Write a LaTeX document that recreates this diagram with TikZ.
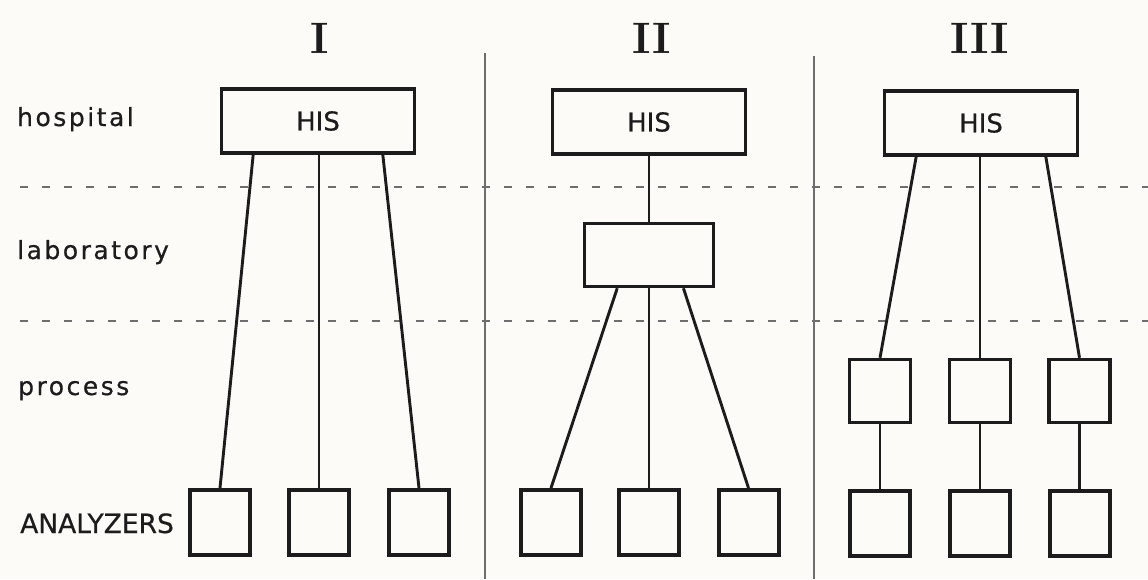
\documentclass[tikz,border=0pt]{standalone}
\usepackage{fontspec}
\newfontfamily\levelfont[LetterSpace=10,FakeBold=0.6]{DejaVu Sans}
\newfontfamily\boxfont[FakeBold=0.6]{DejaVu Sans}
\usetikzlibrary{calc}
\definecolor{paper}{HTML}{FCFBF7}
\definecolor{ink}{HTML}{1C1C1C}
\definecolor{rule}{HTML}{6E6E6E}

\begin{document}
\begin{tikzpicture}[x=1pt,y=-1pt,
  boxline/.style={draw=ink, line width=3.4pt, rectangle, inner sep=0pt},
  hisbox/.style={boxline, minimum width=193pt, minimum height=64pt,
    font=\boxfont\fontsize{26}{26}\selectfont, text=ink},
  labbox/.style={boxline, minimum width=129pt, minimum height=63pt},
  procbox/.style={boxline, minimum width=61pt, minimum height=63pt},
  anbox/.style={boxline, line width=4pt, minimum width=60pt, minimum height=65pt},
  wire/.style={draw=ink, line width=2.9pt},
  level/.style={anchor=base west, inner sep=0pt, text=ink,
    font=\levelfont\fontsize{25}{25}\selectfont},
  numeral/.style={anchor=base, inner sep=0pt, text=ink,
    font=\bfseries\fontsize{44}{44}\selectfont},
  boundary/.style={draw=rule, line width=1.6pt, dash pattern=on 8pt off 14pt},
  divider/.style={draw=rule, line width=1.8pt}
]
% canvas
\fill[paper] (0,0) rectangle (1148,579);
\useasboundingbox (0,0) rectangle (1148,579);

% level boundaries and column dividers
\coordinate (b1l) at (20,187);  \coordinate (b1r) at (1148,187);
\coordinate (b2l) at (20,321);  \coordinate (b2r) at (1148,321);
\draw[boundary] (b1l) -- (b1r);
\draw[boundary] (b2l) -- (b2r);
\coordinate (d1t) at (485,53);  \coordinate (d1b) at (485,579);
\coordinate (d2t) at (814,56);  \coordinate (d2b) at (814,579);
\draw[divider] (d1t) -- (d1b);
\draw[divider] (d2t) -- (d2b);

% level names
\node[level] (lhosp) at (17,126) {hospital};
\node[level] (llab)  at (17,259) {laboratory};
\node[level] (lproc) at (18,395) {process};
\node[anchor=base west, inner sep=0pt, text=ink,
      font=\boxfont\fontsize{26.5}{26.5}\selectfont] (lan) at (20,533) {ANALYZERS};

% column numerals
\node[numeral] (nI)   at (320,53) {I};
\node[numeral] (nII)  at (652,53) {II};
\node[numeral] (nIII) at (980,53) {III};

% ---- column I: every analyzer wired straight to the HIS
\node[hisbox] (hisI) at (318,121) {HIS};
\node[anbox] (aI1) at (220,522.5) {};
\node[anbox] (aI2) at (319,522.5) {};
\node[anbox] (aI3) at (419,522.5) {};
\draw[wire] ($(hisI.south west)!0.17!(hisI.south east)$) -- (aI1.north);
\draw[wire] (hisI.south -| aI2.north) -- (aI2.north);
\draw[wire] ($(hisI.south west)!0.83!(hisI.south east)$) -- (aI3.north);

% ---- column II: one laboratory system between HIS and analyzers
\node[hisbox] (hisII) at (649,122) {HIS};
\node[labbox] (labII) at (649,255) {};
\node[anbox] (aII1) at (551,522.5) {};
\node[anbox] (aII2) at (649,522.5) {};
\node[anbox] (aII3) at (748.5,522.5) {};
\draw[wire] (hisII.south) -- (labII.north);
\draw[wire] ($(labII.south west)!0.26!(labII.south east)$) -- (aII1.north);
\draw[wire] (labII.south) -- (aII2.north);
\draw[wire] ($(labII.south west)!0.76!(labII.south east)$) -- (aII3.north);

% ---- column III: a process computer per analyzer
\node[hisbox] (hisIII) at (981,123) {HIS};
\node[procbox] (pIII1) at (880,391) {};
\node[procbox] (pIII2) at (980,391) {};
\node[procbox] (pIII3) at (1079.5,391) {};
\node[anbox] (aIII1) at (880,523) {};
\node[anbox] (aIII2) at (980,523) {};
\node[anbox] (aIII3) at (1079.5,523) {};
\draw[wire] ($(hisIII.south west)!0.17!(hisIII.south east)$) -- (pIII1.north);
\draw[wire] (hisIII.south -| pIII2.north) -- (pIII2.north);
\draw[wire] ($(hisIII.south west)!0.83!(hisIII.south east)$) -- (pIII3.north);
\draw[wire] (pIII1.south) -- (aIII1.north);
\draw[wire] (pIII2.south) -- (aIII2.north);
\draw[wire] (pIII3.south) -- (aIII3.north);
\end{tikzpicture}
\end{document}
